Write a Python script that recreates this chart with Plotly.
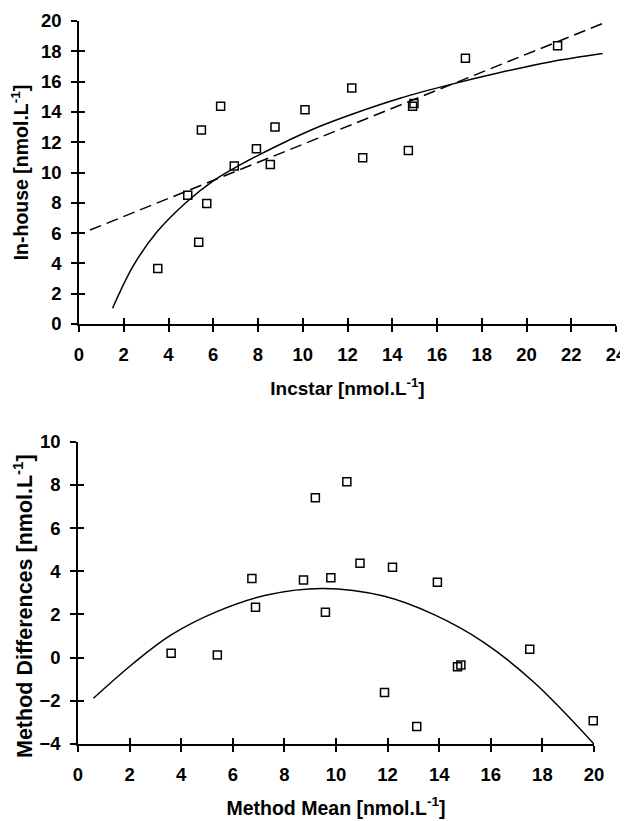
import plotly.graph_objects as go

# ---- Top panel data (Incstar vs In-house) ----
incstar = [3.52, 4.86, 5.35, 5.47, 5.71, 6.33, 6.94, 7.93, 8.55, 8.76,
           10.1, 12.19, 12.68, 14.72, 14.91, 14.97, 17.27, 21.39]
inhouse = [3.67, 8.5, 5.4, 12.8, 7.95, 14.37, 10.43, 11.56, 10.52, 13.0,
           14.15, 15.57, 10.98, 11.45, 14.37, 14.55, 17.54, 18.36]
# fitted curves
top_curve_x = [1.5, 2.43, 3.47, 4.81, 6.0, 7.2, 8.98, 10.77, 12.11, 14.35, 16.58, 18.82, 21.05, 23.4]
top_curve_y = [1.04, 3.85, 6.05, 8.05, 9.45, 10.5, 11.85, 13.05, 13.8, 14.9, 15.8, 16.6, 17.3, 17.85]
top_line_x = [0.49, 23.43]
top_line_y = [6.2, 19.85]

# ---- Bottom panel data (method mean vs differences) ----
method_mean = [3.61, 5.40, 6.74, 6.88, 8.74, 9.2, 9.59, 9.8, 10.42, 10.93,
               11.88, 12.19, 13.13, 13.93, 14.71, 14.84, 17.51, 19.97]
method_diff = [0.2, 0.12, 3.67, 2.33, 3.6, 7.41, 2.1, 3.7, 8.15, 4.37,
               -1.62, 4.18, -3.19, 3.49, -0.42, -0.34, 0.39, -2.92]
bot_curve_x = [0.6, 2.15, 3.61, 5.38, 7.32, 9.5, 11.84, 13.78, 15.71, 17.65, 20.0]
bot_curve_y = [-1.88, -0.26, 1.05, 2.13, 2.9, 3.2, 2.85, 2.0, 0.72, -1.12, -4.0]

top_xticks = list(range(0, 25, 2))
top_yticks = list(range(0, 21, 2))
bot_xticks = list(range(0, 21, 2))
bot_yticks = list(range(-4, 11, 2))

W, H = 628, 821
OFF = 8  # page body margin offset
FONT = "Liberation Sans, Arial, sans-serif"

def tf(size):
    return dict(family=FONT, size=size, color="black", weight="bold")

marker = dict(symbol="square-open", size=8, color="black", line=dict(width=1.5, color="black"))

fig = go.Figure()
fig.add_trace(go.Scatter(x=top_line_x, y=top_line_y, mode="lines",
                         line=dict(color="black", width=1.5, dash="12px,6px"),
                         xaxis="x", yaxis="y", showlegend=False))
fig.add_trace(go.Scatter(x=top_curve_x, y=top_curve_y, mode="lines",
                         line=dict(color="black", width=1.5, shape="spline", smoothing=1.0),
                         xaxis="x", yaxis="y", showlegend=False))
fig.add_trace(go.Scatter(x=incstar, y=inhouse, mode="markers", marker=marker,
                         xaxis="x", yaxis="y", showlegend=False, cliponaxis=False))
fig.add_trace(go.Scatter(x=bot_curve_x, y=bot_curve_y, mode="lines",
                         line=dict(color="black", width=1.5, shape="spline", smoothing=1.0),
                         xaxis="x2", yaxis="y2", showlegend=False))
fig.add_trace(go.Scatter(x=method_mean, y=method_diff, mode="markers", marker=marker,
                         xaxis="x2", yaxis="y2", showlegend=False, cliponaxis=False))
# empty traces to activate the overlay axes (inside ticks)
fig.add_trace(go.Scatter(x=[], y=[], xaxis="x3", yaxis="y3", showlegend=False))
fig.add_trace(go.Scatter(x=[], y=[], xaxis="x4", yaxis="y4", showlegend=False))

def xd(a, b):
    return [(a - OFF) / W, (b - OFF) / W]

def yd(top, bottom):
    return [(H - (bottom - OFF)) / H, (H - (top - OFF)) / H]

top_xdom = xd(79, 616)
top_ydom = yd(21, 324)
bot_xdom = xd(78, 594)
bot_ydom = yd(441.7, 744)

def ax(rng, ticks, dom, anchor, title, tsize, standoff, labstand):
    d = dict(range=rng, tickvals=ticks, domain=dom, anchor=anchor,
             showline=True, linecolor="black", linewidth=1.5,
             ticks="outside", ticklen=6, tickwidth=1.5, tickcolor="black",
             tickfont=tf(18.5), showgrid=False, zeroline=False,
             automargin=False, ticklabelstandoff=labstand, fixedrange=True)
    if title:
        d["title"] = dict(text=title, font=tf(tsize), standoff=standoff)
    return d

def inner(rng, ticks, dom, anchor, overlay):
    return dict(range=rng, tickvals=ticks, domain=dom, anchor=anchor, overlaying=overlay,
                showline=False, ticks="inside", ticklen=6, tickwidth=1.5, tickcolor="black",
                showticklabels=False, showgrid=False, zeroline=False, automargin=False)

fig.update_layout(
    width=W, height=H,
    margin=dict(l=0, r=0, t=0, b=0),
    paper_bgcolor="white", plot_bgcolor="white",
    xaxis=ax([0, 24], top_xticks, top_xdom, "y", "Incstar [nmol.L<sup>-1</sup>]", 19, 18, 7),
    yaxis=ax([0, 20], top_yticks, top_ydom, "x", "In-house [nmol.L<sup>-1</sup>]", 19.5, 11, 6),
    xaxis2=ax([0, 20], bot_xticks, bot_xdom, "y2", "Method Mean [nmol.L<sup>-1</sup>]", 19.5, 17, 7),
    yaxis2=ax([-4, 10], bot_yticks, bot_ydom, "x2", None, 21.5, 13, 6),
    xaxis3=inner([0, 24], top_xticks, top_xdom, "y", "x"),
    yaxis3=inner([0, 20], top_yticks, top_ydom, "x", "y"),
    xaxis4=inner([0, 20], bot_xticks, bot_xdom, "y2", "x2"),
    yaxis4=inner([-4, 10], bot_yticks, bot_ydom, "x2", "y2"),
    annotations=[dict(text="Method Differences [nmol.L<sup>-1</sup>]", textangle=-90,
                      xref="paper", yref="paper", x=(23 - OFF) / W, y=(H - (606 - OFF)) / H,
                      xanchor="center", yanchor="middle", showarrow=False, font=tf(21.5))],
)

fig.write_html("out.html")
